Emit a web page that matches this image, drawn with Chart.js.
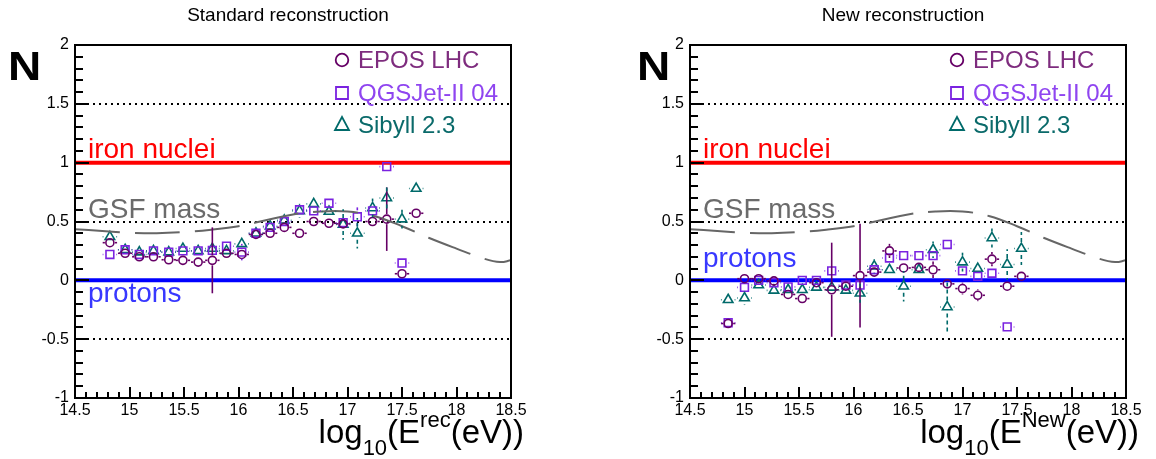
<!DOCTYPE html>
<html>
<head>
<meta charset="utf-8">
<script src="https://cdn.jsdelivr.net/npm/chart.js@4/dist/chart.umd.min.js"></script>
<style>
body { margin: 0; background: #fff; width: 1156px; height: 459px; overflow: hidden; display: flex; }
.painel { position: relative; width: 578px; height: 459px; }
canvas { display: block; }
</style>
</head>
<body>
<div class="painel"><canvas id="graficoStd" width="578" height="459"></canvas></div>
<div class="painel"><canvas id="graficoNew" width="578" height="459"></canvas></div>
<script>
// bins em log10(E/eV)
const stdBins = [14.82, 14.96, 15.09, 15.22, 15.36, 15.49, 15.63, 15.76, 15.89, 16.03, 16.16, 16.29, 16.42, 16.56, 16.69, 16.83, 16.96, 17.09, 17.23, 17.36, 17.50, 17.63];
const newBins = [14.85, 15.00, 15.13, 15.27, 15.40, 15.53, 15.66, 15.80, 15.93, 16.06, 16.19, 16.33, 16.46, 16.60, 16.73, 16.86, 17.00, 17.14, 17.27, 17.41, 17.54];

// Standard reconstruction
const stdEpos = [0.32, 0.23, 0.20, 0.20, 0.175, 0.17, 0.155, 0.17, 0.23, 0.22, 0.39, 0.40, 0.45, 0.40, 0.50, 0.485, 0.48, null, 0.50, 0.52, 0.056, 0.57];
const stdQgs  = [0.22, 0.26, 0.22, 0.25, 0.24, 0.25, 0.25, 0.255, 0.29, 0.24, 0.40, 0.45, 0.50, 0.60, 0.59, 0.655, 0.49, 0.54, 0.59, 0.966, 0.147, null];
const stdSib  = [0.37, 0.26, 0.24, 0.25, 0.24, 0.27, 0.25, 0.27, 0.25, 0.31, 0.40, 0.46, 0.51, 0.59, 0.65, 0.585, 0.475, 0.40, 0.615, 0.70, 0.52, 0.78];
const stdEposErr = [0.03, 0.03, 0.03, 0.03, 0.03, 0.03, 0.03, 0.28, 0.03, 0.03, 0.03, 0.03, 0.03, 0.03, 0.03, 0.03, 0.03, 0.03, 0.03, 0.27, 0.03, 0.03];
const stdQgsErr  = [0.03, 0.03, 0.03, 0.03, 0.03, 0.03, 0.03, 0.03, 0.03, 0.07, 0.03, 0.03, 0.03, 0.03, 0.03, 0.03, 0.05, 0.08, 0.03, 0.03, 0.03, 0.03];
const stdSibErr  = [0.04, 0.03, 0.03, 0.03, 0.03, 0.03, 0.03, 0.03, 0.03, 0.03, 0.03, 0.03, 0.03, 0.06, 0.04, 0.04, 0.13, 0.13, 0.08, 0.10, 0.08, 0.04];

// New reconstruction
const newEpos = [-0.367, 0.014, 0.014, -0.005, -0.12, -0.155, -0.02, -0.08, -0.05, 0.04, 0.07, 0.25, 0.105, 0.11, 0.09, -0.03, -0.07, -0.127, 0.18, -0.05, 0.034];
const newQgs  = [-0.36, -0.06, 0.0, -0.02, -0.056, 0.0, 0.0, 0.08, -0.04, -0.04, 0.09, 0.19, 0.21, 0.21, 0.21, 0.305, 0.08, 0.034, 0.06, -0.396, null];
const newSib  = [-0.165, -0.15, -0.04, -0.085, -0.08, -0.08, -0.06, -0.06, -0.085, -0.11, 0.12, 0.09, -0.05, 0.09, 0.26, -0.226, 0.155, 0.10, 0.36, 0.135, 0.27];
const newEposErr = [0.03, 0.03, 0.03, 0.03, 0.03, 0.03, 0.03, 0.40, 0.03, 0.44, 0.03, 0.06, 0.03, 0.03, 0.07, 0.03, 0.05, 0.05, 0.06, 0.03, 0.03];
const newQgsErr  = [0.03, 0.03, 0.03, 0.03, 0.03, 0.03, 0.03, 0.03, 0.03, 0.03, 0.03, 0.03, 0.03, 0.03, 0.03, 0.03, 0.03, 0.03, 0.03, 0.03, 0.03];
const newSibErr  = [0.04, 0.06, 0.03, 0.03, 0.03, 0.03, 0.03, 0.03, 0.03, 0.08, 0.06, 0.03, 0.13, 0.03, 0.07, 0.22, 0.08, 0.05, 0.08, 0.13, 0.14];

// curva GSF mass
const gsfLogE = [14.5, 14.75, 15.0, 15.25, 15.5, 15.75, 16.0, 16.25, 16.5, 16.75, 17.0, 17.25, 17.5, 17.75, 18.0, 18.25, 18.4, 18.5];
const gsfN    = [0.435, 0.42, 0.405, 0.40, 0.41, 0.43, 0.46, 0.51, 0.56, 0.585, 0.585, 0.545, 0.46, 0.36, 0.27, 0.185, 0.155, 0.17];

// ticks dos eixos
const ticksMaioresY = [-1, -0.5, 0, 0.5, 1, 1.5, 2];
const ticksMaioresX = [14.5, 15, 15.5, 16, 16.5, 17, 17.5, 18, 18.5];
const linhasPontilhadas = [1.5, 1, 0.5, 0, -0.5];
const meiaLargura = 0.066;
const FONTE = '"Liberation Sans", Arial, Helvetica, sans-serif';

const COR_EPOS = '#660066', COR_QGS = '#7a22e0', COR_SIB = '#006a6a';

function pontos(bins, vals) {
    return bins.map((b, i) => ({ x: b, y: vals[i] === undefined ? null : vals[i] }));
}

function linha(ctx, x0, y0, x1, y1) {
    ctx.beginPath(); ctx.moveTo(x0, y0); ctx.lineTo(x1, y1); ctx.stroke();
}

const desenhoPainel = {
    id: 'desenhoPainel',
    beforeDatasetsDraw(chart, args, o) {
        const { ctx, chartArea: a, scales: { x, y } } = chart;
        ctx.save();
        ctx.strokeStyle = '#000';
        ctx.lineWidth = 2;
        ctx.setLineDash([2, 4]);
        linhasPontilhadas.forEach(v => {
            const py = Math.round(y.getPixelForValue(v));
            linha(ctx, a.left, py, a.right, py);
        });
        ctx.setLineDash([]);
        ctx.lineWidth = 4;
        ctx.strokeStyle = '#ff0000';
        linha(ctx, a.left, y.getPixelForValue(1), a.right, y.getPixelForValue(1));
        ctx.strokeStyle = '#0000ff';
        linha(ctx, a.left, y.getPixelForValue(0), a.right, y.getPixelForValue(0));

        ctx.font = '28px ' + FONTE;
        ctx.textAlign = 'left';
        ctx.textBaseline = 'alphabetic';
        ctx.fillStyle = '#ff0000';
        ctx.fillText('iron nuclei', a.left + 13, y.getPixelForValue(1) - 5);
        ctx.fillStyle = '#6b6b6b';
        ctx.fillText('GSF mass', a.left + 13, y.getPixelForValue(0.5) - 4);
        ctx.fillStyle = '#3838ff';
        ctx.fillText('protons', a.left + 13, y.getPixelForValue(0) + o.protonsDy);
        ctx.restore();
    },
    afterDatasetsDraw(chart) {
        const { ctx, scales: { x, y } } = chart;
        chart.data.datasets.forEach(ds => {
            if (!ds.erroY) return;
            const gap = ds.pointRadius + 1;
            ctx.save();
            ctx.strokeStyle = ds.borderColor;
            ctx.lineWidth = 1.6;
            ds.data.forEach((p, j) => {
                if (p.y === null) return;
                const px = x.getPixelForValue(p.x), py = y.getPixelForValue(p.y);
                const x0 = x.getPixelForValue(p.x - meiaLargura), x1 = x.getPixelForValue(p.x + meiaLargura);
                ctx.setLineDash([]);
                linha(ctx, x0, py, px - gap, py);
                linha(ctx, px + gap, py, x1, py);
                const e = ds.erroY[j];
                const yt = y.getPixelForValue(p.y + e), yb = y.getPixelForValue(p.y - e);
                ctx.setLineDash(ds.tracejado ? [4, 3] : []);
                if (py - gap > yt) linha(ctx, px, py - gap, px, yt);
                if (py + gap < yb) linha(ctx, px, py + gap, px, yb);
            });
            ctx.restore();
        });
    },
    afterDraw(chart, args, o) {
        const { ctx, chartArea: a, scales } = chart;
        ctx.save();
        ctx.setLineDash([]);
        // moldura
        ctx.strokeStyle = '#000';
        ctx.lineWidth = 2;
        ctx.strokeRect(a.left, a.top, a.right - a.left, a.bottom - a.top);

        // ticks internos, maiores e menores
        ctx.fillStyle = '#000';
        ticksMaioresY.forEach(v0 => {
            for (let m = 0; m < 5 && v0 + m * 0.1 < 2.001; m++) {
                const py = Math.round(scales.y.getPixelForValue(v0 + m * 0.1));
                ctx.fillRect(a.left, py - 1, m === 0 ? 14 : 8, 2);
            }
        });
        ticksMaioresX.forEach(v0 => {
            for (let m = 0; m < 5 && v0 + m * 0.1 < 18.501; m++) {
                const px = Math.round(scales.x.getPixelForValue(v0 + m * 0.1));
                const h = m === 0 ? 11 : 6;
                ctx.fillRect(px - 1, a.bottom - h, 2, h);
            }
        });

        // legenda
        const lx = a.left + 267;
        const itens = [
            { estilo: 'circle', cor: COR_EPOS, corTexto: '#7e2c7e', texto: 'EPOS LHC', cy: 60, base: 68 },
            { estilo: 'rect', cor: COR_QGS, corTexto: '#8f45f0', texto: 'QGSJet-II 04', cy: 93, base: 101 },
            { estilo: 'triangle', cor: COR_SIB, corTexto: '#0a6a6a', texto: 'Sibyll 2.3', cy: 124, base: 133 }
        ];
        ctx.font = '24px ' + FONTE;
        ctx.textAlign = 'left';
        itens.forEach(it => {
            ctx.strokeStyle = it.cor;
            ctx.lineWidth = 1.8;
            ctx.beginPath();
            if (it.estilo === 'circle') {
                ctx.arc(lx, it.cy, 6.3, 0, Math.PI * 2);
            } else if (it.estilo === 'rect') {
                ctx.rect(lx - 6, it.cy - 6, 12, 12);
            } else {
                ctx.moveTo(lx, it.cy - 7);
                ctx.lineTo(lx + 7, it.cy + 6);
                ctx.lineTo(lx - 7, it.cy + 6);
                ctx.closePath();
            }
            ctx.stroke();
            ctx.fillStyle = it.corTexto;
            ctx.fillText(it.texto, lx + 16, it.base);
        });

        // titulo
        ctx.fillStyle = '#000';
        ctx.font = '19px ' + FONTE;
        ctx.textAlign = 'center';
        ctx.fillText(o.titulo, (a.left + a.right) / 2 - 5, 21);

        // N
        ctx.font = 'bold 40px ' + FONTE;
        ctx.textAlign = 'left';
        ctx.save();
        ctx.translate(a.left + o.nDx, 80);
        ctx.scale(1.15, 1);
        ctx.fillText('N', 0, 0);
        ctx.restore();

        // titulo eixo x
        const partes = [
            { t: 'log', f: '33px ', dy: 0 },
            { t: '10', f: '22px ', dy: 12 },
            { t: '(E', f: '33px ', dy: 0 },
            { t: o.sup, f: '22px ', dy: -16 },
            { t: '(eV))', f: '33px ', dy: 0 }
        ];
        let total = 0;
        partes.forEach(p => { ctx.font = p.f + FONTE; p.w = ctx.measureText(p.t).width; total += p.w; });
        let cx = a.right + 13 - total;
        partes.forEach(p => {
            ctx.font = p.f + FONTE;
            ctx.fillText(p.t, cx, 443 + p.dy);
            cx += p.w;
        });
        ctx.restore();
    }
};

function criarGrafico(id, bins, epos, qgs, sib, eposErr, qgsErr, sibErr, cfg) {
    const ctx = document.getElementById(id).getContext('2d');
    return new Chart(ctx, {
        type: 'scatter',
        data: {
            datasets: [
                {
                    type: 'line',
                    label: 'GSF mass',
                    data: gsfLogE.map((v, i) => ({ x: v, y: gsfN[i] })),
                    borderColor: '#666666',
                    borderWidth: 2,
                    borderDash: [45, 15],
                    pointRadius: 0,
                    tension: 0.4,
                    fill: false
                },
                {
                    label: 'EPOS LHC',
                    data: pontos(bins, epos),
                    erroY: eposErr,
                    pointStyle: 'circle',
                    pointRadius: 4,
                    borderColor: COR_EPOS,
                    backgroundColor: 'rgba(255,255,255,0)',
                    borderWidth: 1.6
                },
                {
                    label: 'QGSJet-II 04',
                    data: pontos(bins, qgs),
                    erroY: qgsErr,
                    pointStyle: 'rect',
                    pointRadius: 5.5,
                    borderColor: COR_QGS,
                    backgroundColor: 'rgba(255,255,255,0)',
                    borderWidth: 1.6
                },
                {
                    label: 'Sibyll 2.3',
                    data: pontos(bins, sib),
                    erroY: sibErr,
                    tracejado: true,
                    pointStyle: 'triangle',
                    pointRadius: 5.5,
                    borderColor: COR_SIB,
                    backgroundColor: 'rgba(255,255,255,0)',
                    borderWidth: 1.6
                }
            ]
        },
        options: {
            responsive: false,
            animation: false,
            layout: { padding: { left: 0, top: 45, right: cfg.padDireita, bottom: 0 } },
            plugins: {
                legend: { display: false },
                tooltip: { enabled: false },
                desenhoPainel: cfg
            },
            scales: {
                x: {
                    type: 'linear',
                    min: 14.5,
                    max: 18.5,
                    afterFit: s => { s.height = 61; },
                    grid: { display: false, drawTicks: false },
                    border: { display: false },
                    ticks: {
                        stepSize: 0.5,
                        padding: 3,
                        maxRotation: 0,
                        color: '#000',
                        font: { family: FONTE, size: 16 },
                        callback: v => String(v)
                    }
                },
                y: {
                    type: 'linear',
                    min: -1,
                    max: 2,
                    afterFit: s => { s.width = cfg.larguraY; },
                    grid: { display: false, drawTicks: false },
                    border: { display: false },
                    ticks: {
                        stepSize: 0.5,
                        padding: 6,
                        color: '#000',
                        font: { family: FONTE, size: 16 },
                        callback: v => String(v)
                    }
                }
            }
        },
        plugins: [desenhoPainel]
    });
}

criarGrafico('graficoStd', stdBins, stdEpos, stdQgs, stdSib, stdEposErr, stdQgsErr, stdSibErr,
    { titulo: 'Standard reconstruction', sup: 'rec', protonsDy: 22, nDx: -67, larguraY: 75, padDireita: 67 });
criarGrafico('graficoNew', newBins, newEpos, newQgs, newSib, newEposErr, newQgsErr, newSibErr,
    { titulo: 'New reconstruction', sup: 'New', protonsDy: -13, nDx: -53, larguraY: 112, padDireita: 30 });
</script>
</body>
</html>
